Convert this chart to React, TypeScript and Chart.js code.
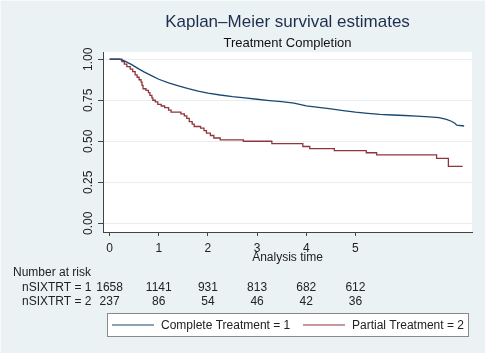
import React, { useEffect, useRef } from 'react';
import { Chart, registerables } from 'chart.js';

Chart.register(...registerables);

const TITLE = 'Kaplan–Meier survival estimates';
const SUBTITLE = 'Treatment Completion';
const X_TITLE = 'Analysis time';
const X_TICKS = [0, 1, 2, 3, 4, 5];
const Y_TICKS = [0, 0.25, 0.5, 0.75, 1];
const Y_TICK_LABELS = ['0.00', '0.25', '0.50', '0.75', '1.00'];
const SERIES_LABELS = ['Complete Treatment = 1', 'Partial Treatment = 2'];
const RISK_TITLE = 'Number at risk';
const RISK_GROUPS = ['nSIXTRT = 1', 'nSIXTRT = 2'];
const RISK_TIMES = [0, 1, 2, 3, 4, 5];
const RISK_COMPLETE = [1658, 1141, 931, 813, 682, 612];
const RISK_PARTIAL = [237, 86, 54, 46, 42, 36];

const COMPLETE_T = [0, 0.2, 0.3, 0.45, 0.6, 0.7, 0.85, 1.0, 1.2, 1.4, 1.6, 1.8, 2.0, 2.25, 2.5, 2.75, 3.0, 3.25, 3.5, 3.75, 4.0, 4.25, 4.5, 4.75, 5.0, 5.25, 5.5, 5.75, 6.0, 6.25, 6.5, 6.7, 6.85, 6.95, 7.02, 7.06, 7.21];
const COMPLETE_S = [1, 1, 0.99, 0.967, 0.94, 0.923, 0.9, 0.878, 0.856, 0.838, 0.821, 0.806, 0.794, 0.782, 0.772, 0.764, 0.756, 0.748, 0.741, 0.733, 0.716, 0.706, 0.697, 0.687, 0.677, 0.67, 0.664, 0.66, 0.657, 0.653, 0.649, 0.644, 0.633, 0.622, 0.61, 0.598, 0.593];

const PARTIAL_T = [0, 0.22, 0.25, 0.3, 0.35, 0.42, 0.47, 0.52, 0.56, 0.6, 0.64, 0.66, 0.68, 0.74, 0.79, 0.82, 0.86, 0.88, 0.93, 0.98, 1.05, 1.12, 1.2, 1.25, 1.45, 1.52, 1.57, 1.62, 1.68, 1.72, 1.85, 1.92, 1.97, 2.05, 2.12, 2.25, 2.72, 3.3, 3.93, 4.07, 4.57, 5.22, 5.43, 6.65, 6.89, 7.18];
const PARTIAL_S = [1, 1, 0.985, 0.97, 0.955, 0.94, 0.925, 0.905, 0.89, 0.875, 0.86, 0.84, 0.82, 0.81, 0.797, 0.78, 0.765, 0.75, 0.74, 0.725, 0.715, 0.705, 0.69, 0.677, 0.667, 0.655, 0.64, 0.62, 0.605, 0.59, 0.58, 0.565, 0.55, 0.535, 0.52, 0.508, 0.5, 0.485, 0.468, 0.455, 0.443, 0.43, 0.417, 0.396, 0.347, 0.347];

const BG = '#eaf2f3';
const BLUE = '#1a476f';
const RED = '#90353b';
const FONT = '"Liberation Sans", Arial, sans-serif';

const decorPlugin = {
  id: 'decor',
  beforeDraw(chart: any) {
    const { ctx, chartArea: a, width, height } = chart;
    ctx.save();
    ctx.fillStyle = '#f7fafb';
    ctx.fillRect(0, 0, width, height);
    ctx.fillStyle = BG;
    ctx.fillRect(1, 1, width - 1, height - 1);
    ctx.fillStyle = '#ffffff';
    ctx.fillRect(a.left, a.top, a.right - a.left, a.bottom - a.top);
    ctx.restore();
  },
  afterDraw(chart: any) {
    const { ctx, chartArea: a } = chart;
    const xs = chart.scales.x;
    const ys = chart.scales.y;
    const cx = (a.left + a.right) / 2;
    ctx.save();
    ctx.textBaseline = 'middle';
    // titles
    ctx.textAlign = 'center';
    ctx.fillStyle = '#1e2d50';
    ctx.font = `17px ${FONT}`;
    ctx.fillText(TITLE, cx, 22);
    ctx.fillStyle = '#111';
    ctx.font = `13px ${FONT}`;
    ctx.fillText(SUBTITLE, cx, 43);
    // y tick labels rotated
    ctx.font = `12px ${FONT}`;
    ctx.fillStyle = '#222';
    Y_TICKS.forEach((v, i) => {
      const y = ys.getPixelForValue(v);
      ctx.save();
      ctx.translate(89, y);
      ctx.rotate(-Math.PI / 2);
      ctx.textAlign = 'center';
      ctx.fillText(Y_TICK_LABELS[i], 0, 0);
      ctx.restore();
    });
    // x title
    ctx.textAlign = 'center';
    ctx.fillText(X_TITLE, cx, 258);
    // risk table
    ctx.textAlign = 'left';
    ctx.fillText(RISK_TITLE, 13, 273);
    ctx.fillText(RISK_GROUPS[0], 22, 287.5);
    ctx.fillText(RISK_GROUPS[1], 22, 301.5);
    ctx.textAlign = 'center';
    RISK_TIMES.forEach((t, i) => {
      const x = xs.getPixelForValue(t);
      ctx.fillText(String(RISK_COMPLETE[i]), x, 287.5);
      ctx.fillText(String(RISK_PARTIAL[i]), x, 301.5);
    });
    // legend
    ctx.fillStyle = '#ffffff';
    ctx.fillRect(107, 313, 361, 23);
    ctx.strokeStyle = '#8a8a8a';
    ctx.lineWidth = 1;
    ctx.strokeRect(107.5, 313.5, 361, 23);
    const colors = [BLUE, RED];
    const starts = [112, 303];
    starts.forEach((sx, i) => {
      ctx.strokeStyle = colors[i];
      ctx.lineWidth = 1.2;
      ctx.beginPath();
      ctx.moveTo(sx, 325);
      ctx.lineTo(sx + 42, 325);
      ctx.stroke();
      ctx.fillStyle = '#222';
      ctx.textAlign = 'left';
      ctx.font = `12px ${FONT}`;
      ctx.fillText(SERIES_LABELS[i], sx + 49, 325.5);
    });
    ctx.restore();
  },
};

export default function App() {
  const ref = useRef<HTMLCanvasElement | null>(null);
  useEffect(() => {
    document.body.style.margin = '0';
    const canvas = ref.current!;
    const chart = new Chart(canvas, {
      type: 'line',
      data: {
        datasets: [
          {
            label: SERIES_LABELS[0],
            data: COMPLETE_T.map((t, i) => ({ x: t, y: COMPLETE_S[i] })),
            borderColor: BLUE,
            borderWidth: 1.3,
            pointRadius: 0,
            fill: false,
            tension: 0,
          },
          {
            label: SERIES_LABELS[1],
            data: PARTIAL_T.map((t, i) => ({ x: t, y: PARTIAL_S[i] })),
            borderColor: RED,
            borderWidth: 1.3,
            pointRadius: 0,
            fill: false,
            stepped: 'before',
          },
        ],
      },
      options: {
        responsive: false,
        animation: false,
        devicePixelRatio: 1,
        layout: { padding: { top: 52, right: 13, left: 0, bottom: 0 } },
        plugins: { legend: { display: false }, title: { display: false }, tooltip: { enabled: false } },
        scales: {
          x: {
            type: 'linear',
            min: -0.134,
            max: 7.37,
            afterBuildTicks: (s: any) => { s.ticks = X_TICKS.map((v) => ({ value: v })); },
            afterFit: (s: any) => { s.height = 121; },
            grid: { drawOnChartArea: false, drawTicks: true, tickLength: 4, tickColor: '#444' },
            border: { color: '#444', width: 1 },
            ticks: {
              autoSkip: false,
              maxRotation: 0,
              padding: 5,
              color: '#222',
              font: { family: FONT, size: 12 },
              callback: (v: any) => String(v),
            },
          },
          y: {
            type: 'linear',
            min: -0.053,
            max: 1.044,
            afterBuildTicks: (s: any) => { s.ticks = Y_TICKS.map((v) => ({ value: v })); },
            afterFit: (s: any) => { s.width = 103; },
            grid: { color: '#e6eef0', drawTicks: true, tickLength: 5, tickColor: '#444' },
            border: { color: '#444', width: 1 },
            ticks: { display: false },
          },
        },
      },
      plugins: [decorPlugin],
    } as any);
    return () => chart.destroy();
  }, []);
  return <canvas ref={ref} width={485} height={353} style={{ display: 'block', width: 485, height: 353 }} />;
}
